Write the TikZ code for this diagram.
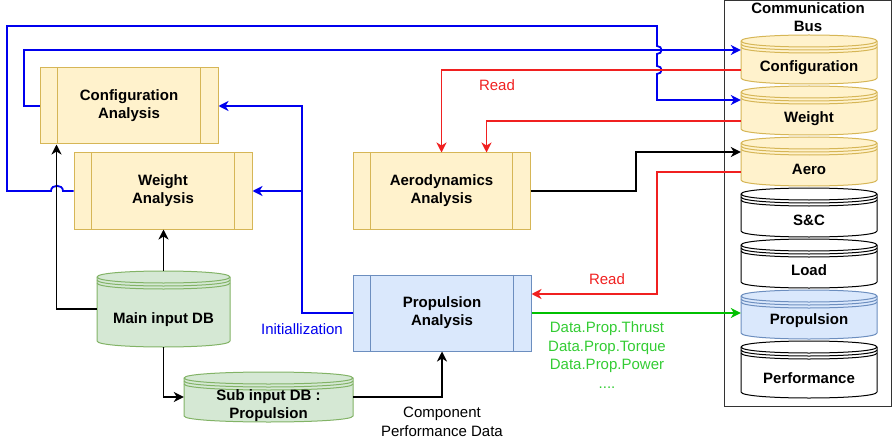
\documentclass[tikz,border=0pt]{standalone}
\usepackage{fontspec}
\setmainfont{Liberation Sans}
\usetikzlibrary{arrows.meta}
\definecolor{yfill}{HTML}{FFF2CC}
\definecolor{ydraw}{HTML}{D6B656}
\definecolor{gfill}{HTML}{D5E8D4}
\definecolor{gdraw}{HTML}{82B366}
\definecolor{bfill}{HTML}{DAE8FC}
\definecolor{bdraw}{HTML}{6C8EBF}
\definecolor{lblue}{HTML}{0000EE}
\definecolor{lred}{HTML}{F02020}
\definecolor{lgreen}{HTML}{00C000}
\definecolor{tgreen}{HTML}{33CC33}
\definecolor{busdraw}{HTML}{333333}
\newcommand\dstore[7]{%
  \filldraw[fill=#6, draw=#7, line width=1pt] ({#2},{#3+6}) .. controls ({#2},{#3-2}) and ({#4},{#3-2}) .. ({#4},{#3+6}) -- ({#4},{#5-6}) .. controls ({#4},{#5+2}) and ({#2},{#5+2}) .. ({#2},{#5-6}) -- cycle;
  \draw[draw=#7, line width=1pt] ({#2},{#3+6}) .. controls ({#2},{#3+14}) and ({#4},{#3+14}) .. ({#4},{#3+6});
  \draw[draw=#7, line width=1pt] ({#2},{#3+9}) .. controls ({#2},{#3+17}) and ({#4},{#3+17}) .. ({#4},{#3+9});
  \draw[draw=#7, line width=1pt] ({#2},{#3+12}) .. controls ({#2},{#3+20}) and ({#4},{#3+20}) .. ({#4},{#3+12});
  \node[inner sep=0, minimum width={(#4-#2)*1pt}, minimum height={(#5-#3)*1pt}] (#1) at ({(#2+#4)/2},{(#3+#5)/2}) {};
}
\tikzset{
  bold/.style={font=\fontsize{15}{18}\selectfont\bfseries, align=center, inner sep=0},
  reg/.style={font=\fontsize{15}{18.5}\selectfont, align=center, inner sep=0},
  proc/.style={bold, draw, line width=1pt, minimum width=178pt, minimum height=76pt},
  conn/.style={line width=1.8pt, -{Stealth[length=10pt,width=10pt,inset=3pt]}},
}
\begin{document}
\begin{tikzpicture}[x=1pt,y=-1pt]
\useasboundingbox (0,0) rectangle (894,441);
% bus
\node[draw=busdraw, line width=1pt, minimum width=167pt, minimum height=405pt, inner sep=0] (bus) at (807.5,203.5) {};
\node[bold] (bustitle) at (808,17) {Communication\\Bus};
% cylinders in bus
\dstore{cc}{741}{35}{877}{84}{yfill}{ydraw}
\dstore{cw}{741}{86}{877}{135}{yfill}{ydraw}
\dstore{caero}{741}{137}{877}{186}{yfill}{ydraw}
\dstore{csc}{741}{188}{877}{237}{white}{black}
\dstore{cload}{741}{239}{877}{288}{white}{black}
\dstore{cprop}{741}{290}{877}{339}{bfill}{bdraw}
\dstore{cperf}{741}{341}{877}{398}{white}{black}
\node[bold] at (809,68) {Configuration};
\node[bold] at (809,119) {Weight};
\node[bold] at (809,169) {Aero};
\node[bold] at (809,220) {S\&C};
\node[bold] at (809,270) {Load};
\node[bold] at (809,321) {Propulsion};
\node[bold] at (809,378) {Performance};
% databases
\dstore{mdb}{97}{271}{230}{347}{gfill}{gdraw}
\node[bold] at (163.5,320) {Main input DB};
\dstore{sdb}{184}{372}{353}{422}{gfill}{gdraw}
\node[bold] at (268.5,406) {Sub input DB :\\Propulsion};
% process boxes
\node[proc, fill=yfill, draw=ydraw] (ca) at (129,106) {Configuration\\Analysis};
\node[proc, fill=yfill, draw=ydraw] (wa) at (163,191) {Weight\\Analysis};
\node[proc, fill=yfill, draw=ydraw, minimum width=177pt] (aa) at (441.5,191) {Aerodynamics\\Analysis};
\node[proc, fill=bfill, draw=bdraw] (pa) at (442,313) {Propulsion\\Analysis};
\foreach \n/\c in {ca/ydraw,wa/ydraw,aa/ydraw,pa/bdraw}{
  \draw[\c, line width=1pt] ([xshift=18pt]\n.north west) -- ([xshift=18pt]\n.south west);
  \draw[\c, line width=1pt] ([xshift=-18pt]\n.north east) -- ([xshift=-18pt]\n.south east);
}
% blue connectors
\draw[conn, lblue] (wa.west) -- (63,191) .. controls (63,184) and (51,184) .. (51,191) -- (7,191) -- (7,26) -- (657,26) -- (657,46) .. controls (663,46) and (663,54) .. (657,54) -- (657,66) .. controls (663,66) and (663,74) .. (657,74) -- (657,100) -- ([yshift=10.5pt]cw.west);
\draw[conn, lblue] (ca.west) -- (24,106) -- (24,50) -- ([yshift=9.5pt]cc.west);
\coordinate (br) at (302,191);
\draw[conn, lblue] (pa.west) -- (302,313) -- (302,106) -- (ca.east);
\draw[conn, lblue] (br) -- (wa.east);
\node[reg, text=lblue] (init) at (302,329) {Initiallization};
% red connectors
\draw[conn, lred] ([yshift=-10.5pt]cc.west) -| (aa.north);
\draw[conn, lred] ([yshift=-10.5pt]cw.west) -| ([xshift=45pt]aa.north);
\node[reg, text=lred] (read1) at (497,85) {Read};
\draw[conn, lred] ([yshift=-10.5pt]caero.west) -- (657,172) -- (657,294) -- ([yshift=19pt]pa.east);
\node[reg, text=lred] (read2) at (607,279) {Read};
% black connectors
\draw[conn, black] (aa.east) -- (636,191) -- (636,152) -- ([yshift=9.5pt]caero.west);
\draw[conn, black] (mdb.north) -- (mdb.north |- wa.south);
\draw[conn, black] (mdb.west) -| ([xshift=17pt]ca.south west);
\draw[conn, black] (mdb.south) |- (sdb.west);
\draw[conn, black] (sdb.east) -| (pa.south);
\node[reg] (comp) at (442,422) {Component\\Performance Data};
% green connector
\draw[conn, lgreen] (pa.east) -- (pa.east -| cprop.west);
\node[reg, text=tgreen] (data) at (607,355) {Data.Prop.Thrust\\Data.Prop.Torque\\Data.Prop.Power\\....};
\end{tikzpicture}
\end{document}
